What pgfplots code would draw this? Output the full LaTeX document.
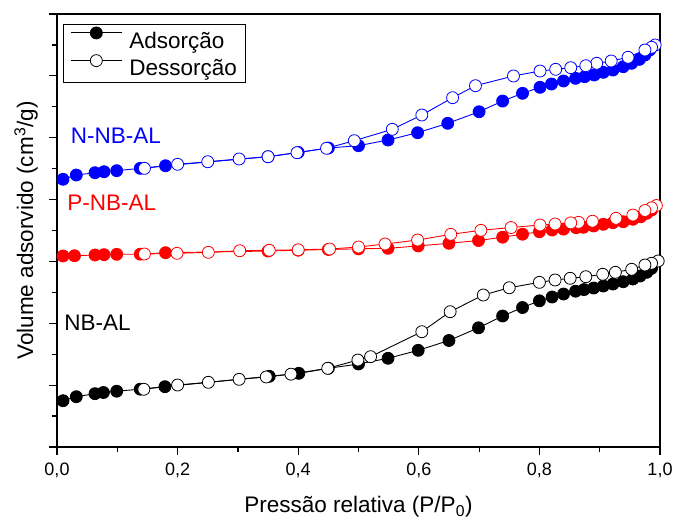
\documentclass[border=0pt]{standalone}
\usepackage{fontspec}
\setmainfont{Liberation Sans}
\usepackage{pgfplots}
\pgfplotsset{compat=1.18}
\begin{document}
\begin{tikzpicture}
\useasboundingbox (0,0) rectangle (675pt,520pt);
\begin{axis}[
  at={(57pt,73pt)}, anchor=south west,
  scale only axis, width=603pt, height=433pt,
  xmin=0, xmax=1, ymin=0, ymax=7,
  xtick={0,0.2,0.4,0.6,0.8,1.0}, minor x tick num=1,
  ytick={0,1,2,3,4,5,6,7}, minor y tick num=1, yticklabels={},
  tick align=outside, xtick pos=bottom, ytick pos=left,
  major tick length=8pt, minor tick length=5pt,
  every tick/.style={black, line width=1.2pt},
  axis line style={line width=1.5pt},
  /pgf/number format/use comma,
  /pgf/number format/fixed,
  /pgf/number format/fixed zerofill,
  /pgf/number format/precision=1,
  /pgf/number format/assume math mode=true,
  xticklabel style={font=\fontsize{18}{18}\selectfont, yshift=-4pt},
  xlabel={Pressão relativa (P/P\textsubscript{0})},
  ylabel={Volume adsorvido (cm\textsuperscript{3}/g)},
  xlabel style={font=\fontsize{22.5}{27}\selectfont, at={(axis description cs:0.5,-0.1524)}, anchor=base},
  ylabel style={font=\fontsize{22.5}{27}\selectfont, at={(axis description cs:-0.0398,0.5)}, anchor=base},
  legend cell align=left,
  legend image code/.code={\draw[yshift=7.8pt, mark repeat=2, mark phase=2, #1] plot coordinates {(0pt,0pt) (25.5pt,0pt) (51pt,0pt)};},
  legend style={draw=black, line width=0.8pt, at={(rel axis cs:0.0099,0.978)}, anchor=north west,
    font=\fontsize{22.5}{27}\selectfont, inner xsep=7pt, inner ysep=3pt, row sep=3pt,
    nodes={inner sep=2pt},
    /tikz/every odd column/.append style={column sep=5pt}},
  ads/.style={line width=0.9pt, mark=*, mark size=6pt, mark options={line width=0.8pt}},
  des/.style={line width=0.9pt, mark=*, mark size=6pt, mark options={fill=white, line width=0.8pt}},
]
\addlegendimage{black, ads}
\addlegendentry{Adsorção}
\addlegendimage{black, des}
\addlegendentry{Dessorção}

% NB-AL (black)
\addplot[black, ads, forget plot] coordinates {
(0.010,0.748) (0.032,0.813) (0.063,0.862) (0.077,0.881) (0.099,0.902) (0.138,0.935) (0.179,0.975)
(0.352,1.143) (0.401,1.191) (0.450,1.272) (0.500,1.342) (0.549,1.434) (0.599,1.563) (0.650,1.722)
(0.699,1.927) (0.739,2.118) (0.772,2.255) (0.800,2.363) (0.821,2.425) (0.840,2.473) (0.860,2.519)
(0.874,2.545) (0.890,2.570) (0.906,2.603) (0.922,2.635) (0.939,2.672) (0.955,2.716) (0.967,2.764)
(0.978,2.824) (0.986,2.889)};
\addplot[black, des, forget plot] coordinates {
(0.997,3.007) (0.986,2.970) (0.975,2.942) (0.953,2.873) (0.926,2.824) (0.905,2.792) (0.877,2.753)
(0.851,2.727) (0.826,2.700) (0.800,2.662) (0.750,2.575) (0.707,2.457) (0.652,2.187) (0.605,1.864)
(0.520,1.460) (0.499,1.406) (0.449,1.272) (0.388,1.177) (0.347,1.132) (0.302,1.094) (0.251,1.046)
(0.200,1.002) (0.144,0.933)};

% P-NB-AL (red)
\addplot[red, ads, forget plot] coordinates {
(0.010,3.088) (0.029,3.092) (0.063,3.104) (0.078,3.109) (0.099,3.115) (0.138,3.117) (0.180,3.141)
(0.350,3.168) (0.400,3.181) (0.450,3.193) (0.500,3.204) (0.549,3.212) (0.599,3.251) (0.650,3.293)
(0.699,3.338) (0.739,3.392) (0.772,3.440) (0.800,3.480) (0.821,3.508) (0.840,3.522) (0.861,3.545)
(0.873,3.552) (0.890,3.573) (0.906,3.600) (0.922,3.626) (0.939,3.642) (0.955,3.681) (0.968,3.723)
(0.978,3.778) (0.986,3.831)};
\addplot[red, des, forget plot] coordinates {
(0.994,3.904) (0.986,3.867) (0.975,3.823) (0.955,3.750) (0.927,3.697) (0.888,3.650) (0.865,3.632)
(0.852,3.624) (0.826,3.605) (0.801,3.589) (0.753,3.548) (0.703,3.503) (0.653,3.438) (0.598,3.346)
(0.544,3.282) (0.500,3.233) (0.452,3.201) (0.400,3.188) (0.352,3.180) (0.303,3.173) (0.251,3.147)
(0.199,3.131) (0.145,3.120)};

% N-NB-AL (blue)
\addplot[blue, ads, forget plot] coordinates {
(0.010,4.328) (0.032,4.397) (0.063,4.434) (0.078,4.450) (0.099,4.467) (0.138,4.505) (0.180,4.547)
(0.350,4.693) (0.400,4.762) (0.450,4.834) (0.500,4.871) (0.549,4.963) (0.598,5.081) (0.648,5.233)
(0.700,5.420) (0.739,5.593) (0.772,5.718) (0.801,5.815) (0.820,5.868) (0.840,5.917) (0.860,5.960)
(0.875,5.986) (0.891,6.014) (0.906,6.057) (0.922,6.094) (0.939,6.148) (0.953,6.203) (0.966,6.267)
(0.975,6.337) (0.983,6.418)};
\addplot[blue, des, forget plot] coordinates {
(0.992,6.499) (0.986,6.462) (0.975,6.418) (0.947,6.300) (0.919,6.240) (0.895,6.203) (0.877,6.164)
(0.852,6.132) (0.827,6.106) (0.801,6.078) (0.757,5.998) (0.694,5.841) (0.656,5.647) (0.605,5.367)
(0.556,5.136) (0.493,4.952) (0.447,4.829) (0.398,4.758) (0.350,4.693) (0.302,4.656) (0.250,4.612)
(0.200,4.570) (0.145,4.505)};

\node[blue, anchor=base west, inner sep=0pt, font=\fontsize{22.5}{27}\selectfont] at (axis cs:0.0227,4.914) {N-NB-AL};
\node[red, anchor=base west, inner sep=0pt, font=\fontsize{22.5}{27}\selectfont] at (axis cs:0.017,3.831) {P-NB-AL};
\node[black, anchor=base west, inner sep=0pt, font=\fontsize{22.5}{27}\selectfont] at (axis cs:0.012,1.891) {NB-AL};
\end{axis}
\end{tikzpicture}
\end{document}
